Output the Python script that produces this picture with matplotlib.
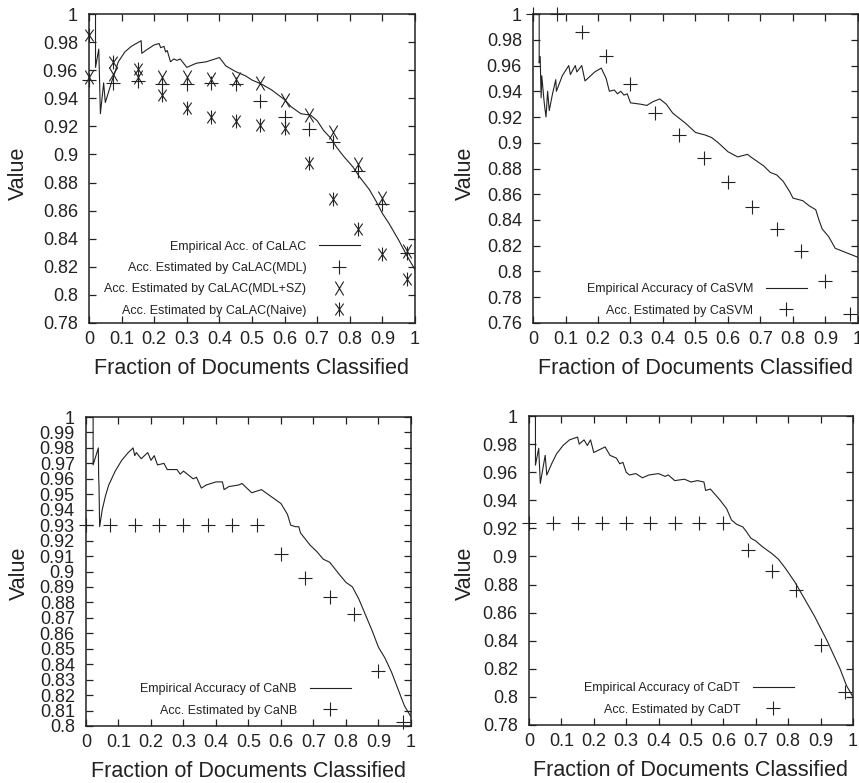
import matplotlib
matplotlib.use("Agg")
import matplotlib.pyplot as plt
from matplotlib.path import Path
from matplotlib.ticker import FuncFormatter, MultipleLocator

plt.rcParams['font.family'] = ['Liberation Sans', 'DejaVu Sans']

ink = '#222222'

# marker positions shared by every panel
est_x = [0, 0.075, 0.15, 0.225, 0.3, 0.375, 0.45, 0.525, 0.6, 0.675, 0.75, 0.825, 0.9, 0.975]

# CaLAC (top left)
lac_x = [0.02, 0.02, 0.03, 0.035, 0.045, 0.05, 0.07, 0.09, 0.11, 0.13, 0.16, 0.162, 0.18, 0.2, 0.215,
         0.22, 0.23, 0.235, 0.24, 0.25, 0.26, 0.27, 0.28, 0.29, 0.30, 0.33, 0.36, 0.40, 0.42, 0.45,
         0.48, 0.50, 0.53, 0.56, 0.60, 0.62, 0.65, 0.68, 0.70, 0.72, 0.74, 0.76, 0.78, 0.81, 0.83,
         0.86, 0.88, 0.90, 0.92, 0.95, 0.975, 1.0]
lac_y = [1.0, 0.962, 0.975, 0.929, 0.951, 0.937, 0.952, 0.966, 0.973, 0.977, 0.981, 0.972, 0.975, 0.978, 0.979,
         0.976, 0.977, 0.973, 0.974, 0.966, 0.968, 0.967, 0.968, 0.965, 0.962, 0.965, 0.966, 0.969, 0.963, 0.959,
         0.956, 0.953, 0.950, 0.946, 0.939, 0.934, 0.929, 0.928, 0.924, 0.917, 0.912, 0.905, 0.899, 0.891, 0.884,
         0.875, 0.867, 0.858, 0.851, 0.839, 0.828, 0.818]
lac_mdl = [0.953, 0.951, 0.952, 0.950, 0.950, 0.951, 0.950, 0.938, 0.927, 0.918, 0.909, 0.888, 0.865, 0.830]
lac_sz = [0.955, 0.957, 0.955, 0.955, 0.955, 0.954, 0.954, 0.951, 0.939, 0.928, 0.916, 0.893, 0.869, 0.831]
lac_naive = [0.985, 0.966, 0.961, 0.942, 0.933, 0.927, 0.924, 0.921, 0.919, 0.894, 0.868, 0.847, 0.829, 0.811]

# CaSVM (top right)
svm_x = [0.019, 0.019, 0.022, 0.025, 0.027, 0.033, 0.035, 0.04, 0.045, 0.05, 0.06, 0.07, 0.072, 0.09, 0.11,
         0.115, 0.13, 0.135, 0.15, 0.16, 0.19, 0.21, 0.225, 0.235, 0.25, 0.26, 0.27, 0.28, 0.29, 0.30,
         0.33, 0.35, 0.37, 0.39, 0.41, 0.43, 0.45, 0.47, 0.50, 0.53, 0.55, 0.57, 0.60, 0.63, 0.66,
         0.67, 0.71, 0.73, 0.75, 0.77, 0.79, 0.80, 0.83, 0.85, 0.87, 0.88, 0.89, 0.91, 0.93, 0.96, 1.0]
svm_y = [1.0, 0.962, 0.967, 0.935, 0.952, 0.935, 0.93, 0.920, 0.94, 0.925, 0.938, 0.949, 0.94, 0.952, 0.96,
         0.953, 0.96, 0.955, 0.96, 0.948, 0.955, 0.958, 0.95, 0.94, 0.941, 0.938, 0.94, 0.937, 0.938, 0.931,
         0.930, 0.929, 0.932, 0.934, 0.930, 0.923, 0.919, 0.915, 0.908, 0.906, 0.904, 0.900, 0.893, 0.889, 0.891,
         0.889, 0.882, 0.877, 0.875, 0.870, 0.862, 0.857, 0.855, 0.851, 0.848, 0.840, 0.833, 0.827, 0.818, 0.815, 0.811]
svm_est = [1.0, 1.0, 0.9857, 0.967, 0.9455, 0.9235, 0.9058, 0.8885, 0.8695, 0.850, 0.8332, 0.8158, 0.7925, 0.7666]

# CaNB (bottom left)
nb_x = [0.022, 0.022, 0.038, 0.039, 0.040, 0.042, 0.05, 0.06, 0.07, 0.09, 0.11, 0.13, 0.145, 0.15, 0.155,
        0.17, 0.19, 0.20, 0.21, 0.22, 0.24, 0.25, 0.28, 0.29, 0.30, 0.33, 0.34, 0.355, 0.37, 0.40,
        0.42, 0.425, 0.44, 0.47, 0.48, 0.50, 0.51, 0.54, 0.56, 0.58, 0.60, 0.62, 0.63, 0.645, 0.655,
        0.66, 0.69, 0.71, 0.73, 0.75, 0.78, 0.80, 0.82, 0.84, 0.86, 0.88, 0.90, 0.92, 0.94, 0.96, 0.98, 1.0]
nb_y = [1.0, 0.969, 0.980, 0.961, 0.956, 0.929, 0.940, 0.949, 0.956, 0.965, 0.972, 0.977, 0.980, 0.975, 0.977,
        0.973, 0.977, 0.972, 0.975, 0.969, 0.970, 0.966, 0.966, 0.963, 0.965, 0.960, 0.961, 0.954, 0.956, 0.958,
        0.958, 0.953, 0.955, 0.956, 0.957, 0.953, 0.951, 0.953, 0.950, 0.947, 0.944, 0.937, 0.930, 0.929, 0.929,
        0.925, 0.917, 0.913, 0.908, 0.906, 0.898, 0.893, 0.890, 0.882, 0.872, 0.862, 0.851, 0.844, 0.835, 0.824, 0.813, 0.806]
nb_est = [0.93, 0.93, 0.93, 0.93, 0.93, 0.93, 0.93, 0.93, 0.9116, 0.896, 0.8836, 0.8724, 0.8357, 0.8024]

# CaDT (bottom right)
dt_x = [0.02, 0.02, 0.03, 0.035, 0.05, 0.055, 0.07, 0.085, 0.105, 0.125, 0.15, 0.155, 0.17, 0.18, 0.19,
        0.20, 0.235, 0.25, 0.27, 0.28, 0.29, 0.30, 0.31, 0.33, 0.35, 0.37, 0.40, 0.42, 0.43, 0.45,
        0.48, 0.50, 0.52, 0.54, 0.545, 0.56, 0.59, 0.61, 0.625, 0.64, 0.66, 0.67, 0.685, 0.70, 0.72,
        0.75, 0.77, 0.79, 0.82, 0.84, 0.86, 0.88, 0.90, 0.92, 0.94, 0.96, 0.98, 1.0]
dt_y = [1.0, 0.965, 0.977, 0.952, 0.972, 0.958, 0.966, 0.973, 0.979, 0.983, 0.985, 0.980, 0.983, 0.979, 0.983,
        0.974, 0.978, 0.972, 0.970, 0.966, 0.967, 0.960, 0.958, 0.959, 0.956, 0.958, 0.959, 0.957, 0.958, 0.954,
        0.955, 0.953, 0.954, 0.953, 0.947, 0.948, 0.940, 0.934, 0.926, 0.923, 0.921, 0.918, 0.913, 0.911, 0.907,
        0.902, 0.898, 0.892, 0.882, 0.874, 0.866, 0.858, 0.849, 0.840, 0.830, 0.820, 0.808, 0.800]
dt_est = [0.924, 0.924, 0.924, 0.924, 0.924, 0.924, 0.924, 0.924, 0.924, 0.9046, 0.8899, 0.8762, 0.837, 0.8038]

# gnuplot-like point shapes: narrow X and an asterisk
x_mark = Path([(-0.6, -1), (0.6, 1), (-0.6, 1), (0.6, -1)],
              [Path.MOVETO, Path.LINETO, Path.MOVETO, Path.LINETO])
star_mark = Path([(0, -1), (0, 1), (-0.6, -0.85), (0.6, 0.85), (-0.6, 0.85), (0.6, -0.85)],
                 [Path.MOVETO, Path.LINETO, Path.MOVETO, Path.LINETO, Path.MOVETO, Path.LINETO])

fig = plt.figure(figsize=(8.59, 7.83), dpi=100)


def setup(ax, ymin, ystep, ylab_pos):
    ax.set_xlim(0, 1)
    ax.set_ylim(ymin, 1)
    ax.xaxis.set_major_locator(MultipleLocator(0.1))
    ax.yaxis.set_major_locator(MultipleLocator(ystep))
    fmt = FuncFormatter(lambda v, p: f"{round(v, 3):g}")
    ax.xaxis.set_major_formatter(fmt)
    ax.yaxis.set_major_formatter(fmt)
    ax.tick_params(direction='in', length=5, width=0.9, top=True, right=True,
                   labelsize=13, colors=ink)
    ax.tick_params(axis='y', pad=8)
    ax.tick_params(axis='x', pad=6)
    for s in ax.spines.values():
        s.set_linewidth(1.1)
        s.set_color(ink)
    ax.set_xlabel('Fraction of Documents Classified', fontsize=15.5, color=ink)
    ax.set_ylabel('Value', fontsize=15.5, color=ink)
    ax.xaxis.set_label_coords(0.5, -0.112)
    ax.yaxis.set_label_coords(ylab_pos[0], ylab_pos[1])


def draw(ax, cx, cy, curve_label, marks, legend_anchor):
    ax.plot(cx, cy, color=ink, lw=0.8, label=curve_label)
    for vals, mk, lab in marks:
        ax.plot(est_x, vals, ls='none', marker=mk, ms=10, mew=0.8, mfc='none',
                color=ink, label=lab, clip_on=False)
    ax.legend(loc='lower right', bbox_to_anchor=legend_anchor, frameon=False, fontsize=9,
              markerfirst=False, handlelength=3.3, handletextpad=1.0, labelspacing=0.75,
              borderpad=0, borderaxespad=0, labelcolor=ink)


ax1 = fig.add_axes([0.1036, 0.5875, 0.3795, 0.3946])
setup(ax1, 0.78, 0.02, (-0.185, 0.485))
draw(ax1, lac_x, lac_y, 'Empirical Acc. of CaLAC',
     [(lac_mdl, '+', 'Acc. Estimated by CaLAC(MDL)'),
      (lac_sz, x_mark, 'Acc. Estimated by CaLAC(MDL+SZ)'),
      (lac_naive, star_mark, 'Acc. Estimated by CaLAC(Naive)')],
     (0.831, 0.02))

ax2 = fig.add_axes([0.6205, 0.5875, 0.3783, 0.3946])
setup(ax2, 0.76, 0.02, (-0.175, 0.485))
draw(ax2, svm_x, svm_y, 'Empirical Accuracy of CaSVM',
     [(svm_est, '+', 'Acc. Estimated by CaSVM')],
     (0.843, 0.02))

ax3 = fig.add_axes([0.1001, 0.0728, 0.3783, 0.3946])
setup(ax3, 0.80, 0.01, (-0.172, 0.495))
draw(ax3, nb_x, nb_y, 'Empirical Accuracy of CaNB',
     [(nb_est, '+', 'Acc. Estimated by CaNB')],
     (0.815, 0.03))

ax4 = fig.add_axes([0.6158, 0.0741, 0.3772, 0.3946])
setup(ax4, 0.78, 0.02, (-0.165, 0.49))
draw(ax4, dt_x, dt_y, 'Empirical Accuracy of CaDT',
     [(dt_est, '+', 'Acc. Estimated by CaDT')],
     (0.818, 0.03))

fig.savefig('out.png', dpi=100)
